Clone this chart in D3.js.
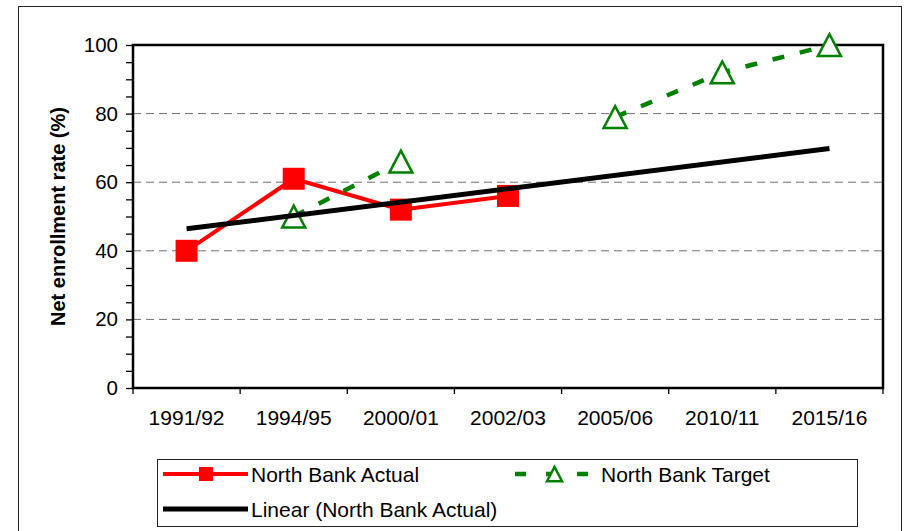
<!DOCTYPE html>
<html lang="en">
<head>
    <meta charset="UTF-8">
    <title>Net enrollment rate - North Bank</title>
    <script src="https://d3js.org/d3.v7.min.js"></script>
    <style>
        body {
            margin: 0;
            background: #ffffff;
            font-family: 'Liberation Sans', Arial, sans-serif;
        }
        svg text {
            font-family: 'Liberation Sans', Arial, sans-serif;
            fill: #000;
        }
    </style>
</head>
<body>
    <div id="chart-container"></div>

    <script>
        // data
        const years = ["1991/92", "1994/95", "2000/01", "2002/03", "2005/06", "2010/11", "2015/16"];
        const actual = [40, 61, 52, 56, null, null, null];
        const target = [null, 50, 66, null, 79, 92, 100];
        const yTicks = [0, 20, 40, 60, 80, 100];

        const width = 907;
        const height = 531;
        const plot = { left: 133, right: 883, top: 45, bottom: 388 };

        const svg = d3.select("#chart-container")
            .append("svg")
            .attr("width", width)
            .attr("height", height);

        // outer frame
        svg.append("rect")
            .attr("x", 18.5).attr("y", 6.5)
            .attr("width", 883).attr("height", 540)
            .attr("fill", "none")
            .attr("stroke", "#222")
            .attr("stroke-width", 1);

        const xScale = d3.scaleBand()
            .domain(years)
            .range([plot.left, plot.right])
            .padding(0);

        const yScale = d3.scaleLinear()
            .domain([0, 100])
            .range([plot.bottom, plot.top]);

        const cx = d => xScale(d) + xScale.bandwidth() / 2;

        // gridlines
        svg.append("g")
            .selectAll("line")
            .data(yTicks.filter(t => t > 0 && t < 100))
            .enter()
            .append("line")
            .attr("x1", plot.left)
            .attr("x2", plot.right)
            .attr("y1", d => yScale(d))
            .attr("y2", d => yScale(d))
            .attr("stroke", "#707070")
            .attr("stroke-width", 1)
            .attr("stroke-dasharray", "8,5");

        // y axis with minor ticks every 5
        const yAxis = d3.axisLeft(yScale)
            .tickValues(d3.range(0, 101, 5))
            .tickSize(7)
            .tickPadding(8)
            .tickFormat(d => yTicks.includes(d) ? d : "");

        const gy = svg.append("g")
            .attr("transform", `translate(${plot.left}, 0)`)
            .call(yAxis);
        gy.select(".domain").remove();
        gy.selectAll(".tick line").attr("stroke", "#000").attr("stroke-width", 1.3);
        gy.selectAll("text").style("font-size", "20.5px");

        // x axis, ticks at category boundaries
        const xAxis = d3.axisBottom(xScale)
            .tickSize(0)
            .tickPadding(22);

        const gx = svg.append("g")
            .attr("transform", `translate(0, ${plot.bottom})`)
            .call(xAxis);
        gx.select(".domain").remove();
        gx.selectAll("text").style("font-size", "21px");

        svg.append("g")
            .selectAll("line")
            .data(years.map(y => xScale(y)).concat([plot.right]))
            .enter()
            .append("line")
            .attr("x1", d => d).attr("x2", d => d)
            .attr("y1", plot.bottom).attr("y2", plot.bottom + 6)
            .attr("stroke", "#000")
            .attr("stroke-width", 1.3);

        // plot frame
        svg.append("rect")
            .attr("x", plot.left).attr("y", plot.top)
            .attr("width", plot.right - plot.left)
            .attr("height", plot.bottom - plot.top)
            .attr("fill", "none")
            .attr("stroke", "#000")
            .attr("stroke-width", 2.5);

        // y axis title
        svg.append("text")
            .attr("transform", `translate(65, ${(plot.top + plot.bottom) / 2}) rotate(-90)`)
            .attr("text-anchor", "middle")
            .style("font-size", "20px")
            .style("font-weight", "bold")
            .text("Net enrollment rate (%)");

        // actual series
        const actualPts = years.map((y, i) => ({ year: y, value: actual[i] }))
            .filter(d => d.value !== null);

        const line = d3.line()
            .defined(d => d.value !== null)
            .x(d => cx(d.year))
            .y(d => yScale(d.value));

        svg.append("path")
            .datum(actualPts)
            .attr("d", line)
            .attr("fill", "none")
            .attr("stroke", "#ff0000")
            .attr("stroke-width", 4);

        svg.append("g")
            .selectAll("rect")
            .data(actualPts)
            .enter()
            .append("rect")
            .attr("x", d => cx(d.year) - 11)
            .attr("y", d => yScale(d.value) - 11)
            .attr("width", 22)
            .attr("height", 22)
            .attr("fill", "#ff0000");

        // target series (gaps where no value)
        const targetPts = years.map((y, i) => ({ year: y, value: target[i] }));

        svg.append("path")
            .datum(targetPts)
            .attr("d", line)
            .attr("fill", "none")
            .attr("stroke", "#008000")
            .attr("stroke-width", 4.5)
            .attr("stroke-dasharray", "12,16");

        const tri = (x, y, s) => {
            const h = s * 0.95;
            return `M${x},${y - h / 2}L${x + s / 2},${y + h / 2}L${x - s / 2},${y + h / 2}Z`;
        };

        svg.append("g")
            .selectAll("path")
            .data(targetPts.filter(d => d.value !== null))
            .enter()
            .append("path")
            .attr("d", d => tri(cx(d.year), yScale(d.value), 23))
            .attr("fill", "#fff")
            .attr("stroke", "#008000")
            .attr("stroke-width", 2.5);

        // linear trendline fitted to the actual values
        const xs = actualPts.map(d => years.indexOf(d.year) + 1);
        const ys = actualPts.map(d => d.value);
        const mx = d3.mean(xs), my = d3.mean(ys);
        const slope = d3.sum(xs, (x, i) => (x - mx) * (ys[i] - my)) / d3.sum(xs, x => (x - mx) ** 2);
        const trend = years.map((y, i) => ({ year: y, value: my + slope * (i + 1 - mx) }));
        const trendEnds = [trend[0], trend[trend.length - 1]];

        svg.append("path")
            .datum(trendEnds)
            .attr("d", line)
            .attr("fill", "none")
            .attr("stroke", "#000")
            .attr("stroke-width", 5);

        // legend
        const legend = svg.append("g");
        legend.append("rect")
            .attr("x", 157.5).attr("y", 459.5)
            .attr("width", 700).attr("height", 67)
            .attr("fill", "#fff")
            .attr("stroke", "#222")
            .attr("stroke-width", 1);

        const row1 = 474, row2 = 509;

        legend.append("line")
            .attr("x1", 163).attr("x2", 248)
            .attr("y1", row1).attr("y2", row1)
            .attr("stroke", "#ff0000").attr("stroke-width", 4);
        legend.append("rect")
            .attr("x", 199).attr("y", row1 - 7)
            .attr("width", 14).attr("height", 14)
            .attr("fill", "#ff0000");
        legend.append("text")
            .attr("x", 251).attr("y", row1 + 7.5)
            .style("font-size", "21px")
            .text("North Bank Actual");

        legend.append("line")
            .attr("x1", 515).attr("x2", 588)
            .attr("y1", row1).attr("y2", row1)
            .attr("stroke", "#008000").attr("stroke-width", 4.5)
            .attr("stroke-dasharray", "11,20");
        legend.append("path")
            .attr("d", tri(554.5, row1, 15))
            .attr("fill", "#fff")
            .attr("stroke", "#008000")
            .attr("stroke-width", 2.5);
        legend.append("text")
            .attr("x", 601).attr("y", row1 + 7.5)
            .style("font-size", "21px")
            .text("North Bank Target");

        legend.append("line")
            .attr("x1", 163).attr("x2", 248)
            .attr("y1", row2).attr("y2", row2)
            .attr("stroke", "#000").attr("stroke-width", 5);
        legend.append("text")
            .attr("x", 251).attr("y", row2 + 7.5)
            .style("font-size", "21px")
            .text("Linear (North Bank Actual)");
    </script>
</body>
</html>
